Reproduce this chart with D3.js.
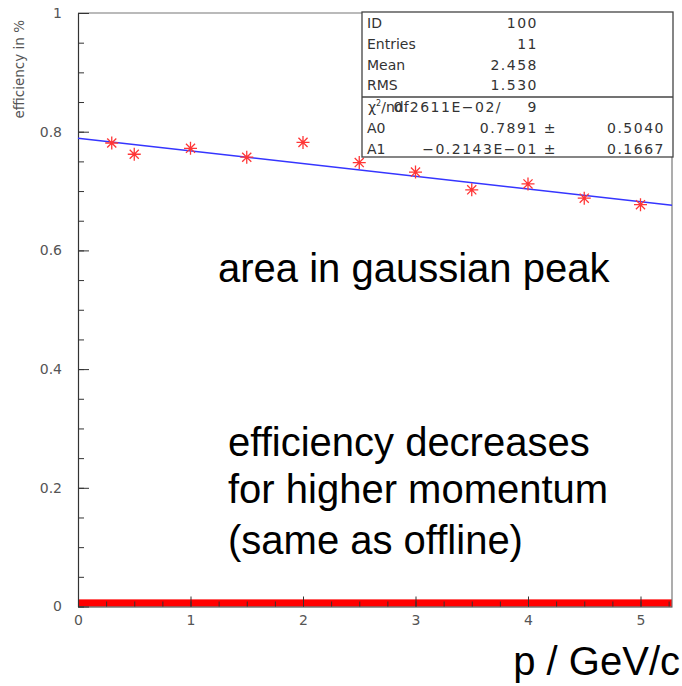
<!DOCTYPE html>
<html>
<head>
<meta charset="utf-8">
<script src="https://cdn.jsdelivr.net/npm/d3@7"></script>
<style>
  body { margin: 0; background: #fff; }
  svg { display: block; }
  .stat { font-family: "DejaVu Sans", sans-serif; font-size: 14px; fill: #333; }
  .num { letter-spacing: 1.5px; }
  .note { font-family: "Liberation Sans", Arial, sans-serif; font-size: 40px; fill: #000; }
</style>
</head>
<body>
<script>
let w = 682,
  h = 686;

// measured points: momentum (GeV/c) vs efficiency
const momentum = [0.3, 0.5, 1, 1.5, 2, 2.5, 3, 3.5, 4, 4.5, 5];
const efficiency = [0.781, 0.762, 0.772, 0.757, 0.782, 0.748, 0.732, 0.702, 0.712, 0.688, 0.677];

// linear fit A0 + A1*p
const fitParams = [0.7891, -0.02143];

// red band along zero
const zeroBand = [0, 0.012];

const xTicks = [0, 1, 2, 3, 4, 5];
const yTicks = [0, 0.2, 0.4, 0.6, 0.8, 1];

const statLabels = ["ID", "Entries", "Mean", "RMS"];
const statValues = ["100", "11", "2.458", "1.530"];
const fitLabels = ["A0", "A1"];
const fitValues = ["0.7891 \u00b1", "\u22120.2143E\u221201 \u00b1"];
const fitErrors = ["0.5040", "0.1667"];

const notes = ["area in gaussian peak", "efficiency decreases", "for higher momentum", "(same as offline)"];

let xScale = d3.scaleLinear()
  .domain([0, 5.28])
  .range([78, 672]);

let yScale = d3.scaleLinear()
  .domain([0, 1])
  .range([606.5, 13]);

const svg = d3.select("body")
  .append("svg")
  .attr("width", w)
  .attr("height", h);

// zero band
svg.append("rect")
  .attr("x", xScale(0))
  .attr("y", yScale(zeroBand[1]))
  .attr("width", xScale(5.28) - xScale(0))
  .attr("height", yScale(zeroBand[0]) - yScale(zeroBand[1]))
  .attr("fill", "#ff0000");

// frame top + right
svg.append("path")
  .attr("d", "M" + xScale(0) + "," + yScale(1) + "H" + xScale(5.28) + "V" + yScale(0))
  .attr("fill", "none")
  .attr("stroke", "#777")
  .attr("stroke-width", 1.2);

// minor ticks
svg.append("g")
  .attr("transform", "translate(0," + yScale(0) + ")")
  .call(d3.axisBottom(xScale).tickValues(d3.range(0, 5.26, 0.25)).tickSize(-5).tickSizeOuter(0).tickFormat(""))
  .call(g => g.select(".domain").remove())
  .selectAll("line").attr("stroke", "#333");

svg.append("g")
  .attr("transform", "translate(" + xScale(0) + ",0)")
  .call(d3.axisLeft(yScale).tickValues(d3.range(0, 1.001, 0.05)).tickSize(-6).tickSizeOuter(0).tickFormat(""))
  .call(g => g.select(".domain").remove())
  .selectAll("line").attr("stroke", "#333");

// major ticks + labels
svg.append("g")
  .attr("transform", "translate(0," + yScale(0) + ")")
  .call(d3.axisBottom(xScale).tickValues(xTicks).tickSize(-10).tickSizeOuter(0).tickPadding(9).tickFormat(d3.format("d")))
  .call(g => g.select(".domain").attr("stroke", "#333").attr("stroke-width", 1.2))
  .selectAll("line").attr("stroke", "#333");

svg.append("g")
  .attr("transform", "translate(" + xScale(0) + ",0)")
  .call(d3.axisLeft(yScale).tickValues(yTicks).tickSize(-11).tickSizeOuter(0).tickPadding(16).tickFormat(d => d3.format("")(+d.toFixed(1))))
  .call(g => g.select(".domain").attr("stroke", "#333").attr("stroke-width", 1.2))
  .selectAll("line").attr("stroke", "#333");

svg.selectAll(".tick text")
  .attr("font-family", "DejaVu Sans, sans-serif")
  .attr("font-size", 14)
  .attr("fill", "#555");

// axis titles
svg.append("text")
  .attr("transform", "translate(24,20) rotate(-90)")
  .attr("text-anchor", "end")
  .attr("font-family", "DejaVu Sans, sans-serif")
  .attr("font-size", 13.5)
  .attr("fill", "#555")
  .text("efficiency in %");

svg.append("text")
  .attr("class", "note")
  .attr("x", 680)
  .attr("y", 675)
  .attr("text-anchor", "end")
  .text("p / GeV/c");

// fit line
let line = d3.line()
  .x(d => xScale(d))
  .y(d => yScale(fitParams[0] + fitParams[1] * d));

svg.append("path")
  .datum([0, 5.28])
  .attr("d", line)
  .attr("fill", "none")
  .attr("stroke", "#3535ff")
  .attr("stroke-width", 1.5);

// asterisk markers
const r = 6.5;
const star = "M" + (-r) + ",0H" + r + "M0," + (-r) + "V" + r +
  "M" + (-r * 0.7) + "," + (-r * 0.7) + "L" + (r * 0.7) + "," + (r * 0.7) +
  "M" + (-r * 0.7) + "," + (r * 0.7) + "L" + (r * 0.7) + "," + (-r * 0.7);

svg.selectAll("path.pt")
  .data(momentum)
  .enter()
  .append("path")
  .attr("class", "pt")
  .attr("transform", (d, i) => "translate(" + xScale(d) + "," + yScale(efficiency[i]) + ")")
  .attr("d", star)
  .attr("stroke", "#ff3636")
  .attr("stroke-width", 1.3)
  .attr("fill", "none");

// stats box
const bx = 362, by = 12, bw = 311, bh = 145;
const box = svg.append("g");
box.append("rect")
  .attr("x", bx).attr("y", by).attr("width", bw).attr("height", bh)
  .attr("fill", "#fff").attr("stroke", "#444").attr("stroke-width", 1.3);
box.append("line")
  .attr("x1", bx).attr("x2", bx + bw).attr("y1", 97).attr("y2", 97)
  .attr("stroke", "#444").attr("stroke-width", 1.3);

statLabels.forEach(function(s, i) {
  let y = 28 + i * 20.8;
  box.append("text").attr("class", "stat").attr("x", 367).attr("y", y).text(s);
  box.append("text").attr("class", "stat num").attr("x", 538).attr("y", y).attr("text-anchor", "end").text(statValues[i]);
});

// chi2 row (overlapping as in the original)
let chi = box.append("text").attr("class", "stat").attr("x", 368).attr("y", 112);
chi.append("tspan").text("\u03c7");
chi.append("tspan").attr("font-size", 8).attr("dy", -6).text("2");
chi.append("tspan").attr("dy", 6).text("/ndf");
box.append("text").attr("class", "stat num").attr("x", 502).attr("y", 112).attr("text-anchor", "end").text("0.2611E\u221202/");
box.append("text").attr("class", "stat num").attr("x", 538).attr("y", 112).attr("text-anchor", "end").text("9");

fitLabels.forEach(function(s, i) {
  let y = 132.8 + i * 20.8;
  box.append("text").attr("class", "stat").attr("x", 367).attr("y", y).text(s);
  box.append("text").attr("class", "stat num").attr("x", 557).attr("y", y).attr("text-anchor", "end").text(fitValues[i]);
  box.append("text").attr("class", "stat num").attr("x", 665).attr("y", y).attr("text-anchor", "end").text(fitErrors[i]);
});

// annotations
const noteX = [218, 228, 228, 228];
const noteY = [282, 456, 503, 554];
svg.selectAll("text.note-line")
  .data(notes)
  .enter()
  .append("text")
  .attr("class", "note note-line")
  .attr("x", (d, i) => noteX[i])
  .attr("y", (d, i) => noteY[i])
  .text(d => d);
</script>
</body>
</html>
